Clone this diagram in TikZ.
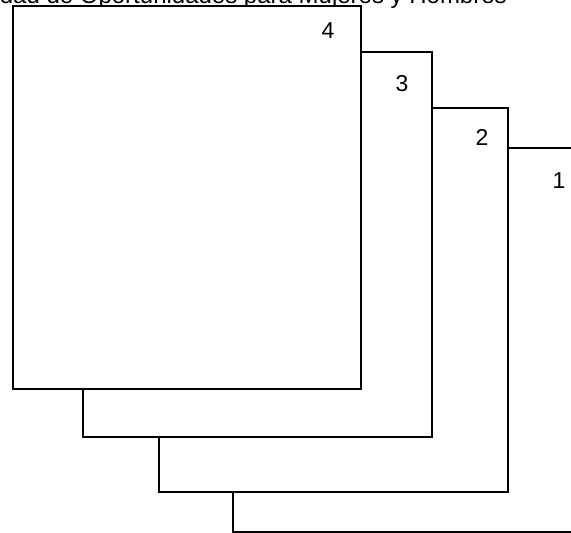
\documentclass[tikz,border=0pt]{standalone}
\usepackage{fontspec}
\setmainfont{Liberation Sans}
\begin{document}
\begin{tikzpicture}[x=1pt,y=-1pt,
  sheet/.style={draw=black,line width=2.2pt,fill=white},
  num/.style={font=\fontsize{23}{26}\selectfont,inner sep=0pt},
  ttl/.style={font=\fontsize{24}{28}\selectfont,inner sep=0pt}]
\useasboundingbox (0,0) rectangle (571,533);
\clip (0,0) rectangle (571,533);
\fill[white] (0,0) rectangle (571,533);
\node[ttl,anchor=base east] (title) at (507,3) {Igualdad de Oportunidades para Mujeres y Hombres};
\path[sheet] (233,148) rectangle (582,532);
\path[sheet] (159,108) rectangle (508,492);
\path[sheet] (83,52) rectangle (432,437);
\path[sheet] (13,6) rectangle (361,389);
\node[num] (n4) at (328,31) {4};
\node[num] (n3) at (402,84) {3};
\node[num] (n2) at (482,137) {2};
\node[num] (n1) at (559,181) {1};
\end{tikzpicture}
\end{document}
